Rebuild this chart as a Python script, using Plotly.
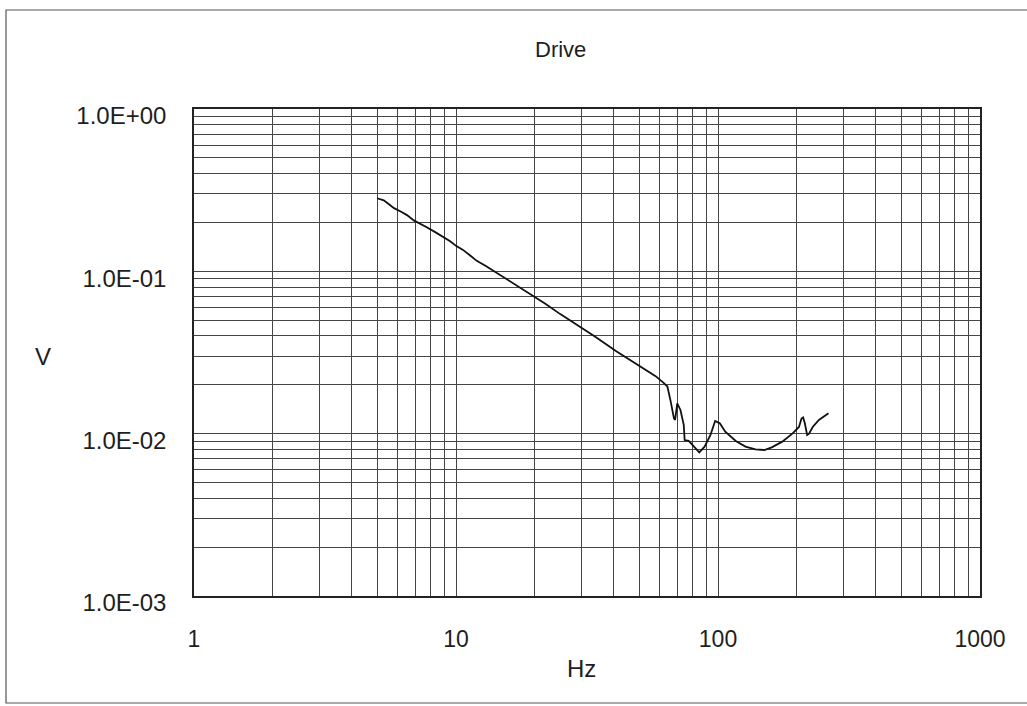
import plotly.graph_objects as go

# Drive voltage vs frequency (log-log)
freq_hz = [5.0, 5.3, 5.5, 5.8, 6.2, 6.5, 6.9, 7.3, 7.7, 8.3, 9.0, 9.5, 10.0,
           10.6, 11.3, 12.0, 13.0, 14.0, 15.0, 16.0, 17.5, 19.7, 22.0, 25.0,
           29.5, 34.0, 40.9, 47.0, 52.0, 57.8, 62.3, 64.1, 66.0, 67.9, 68.6,
           69.9, 71.9, 74.0, 74.6, 77.3, 81.0, 84.8, 88.9, 93.6, 97.5, 101.6,
           106.6, 116.9, 127.3, 139.0, 150.3, 160.4, 175.9, 192.7, 203.7,
           208.3, 211.3, 214.5, 218.9, 222.6, 229.9, 242.7, 264.1]
drive_v = [0.282, 0.274, 0.262, 0.245, 0.232, 0.222, 0.206, 0.197, 0.1875,
           0.175, 0.162, 0.153, 0.1435, 0.136, 0.1256, 0.116, 0.108, 0.100,
           0.094, 0.088, 0.080, 0.0705, 0.063, 0.0545, 0.0459, 0.0395, 0.0322,
           0.0280, 0.0250, 0.0226, 0.0204, 0.0195, 0.01576, 0.01243, 0.01215,
           0.01538, 0.0140, 0.01132, 0.00914, 0.00902, 0.00832, 0.00767,
           0.00832, 0.00982, 0.01197, 0.01158, 0.01029, 0.00902, 0.00832,
           0.0080, 0.00793, 0.00823, 0.00893, 0.01004, 0.0110, 0.0124, 0.0126,
           0.01158, 0.00982, 0.0100, 0.0110, 0.01215, 0.01334]

x_ticks = [1, 10, 100, 1000]
x_tick_text = ["1", "10", "100", "1000"]
y_ticks = [1e-3, 1e-2, 1e-1, 1.0]
y_tick_text = ["1.0E-03", "1.0E-02", "1.0E-01", "1.0E+00"]

x_minor = [m * 10 ** d for d in range(0, 3) for m in range(2, 10)]
y_minor = [m * 10 ** d for d in range(-3, 0) for m in range(2, 10)]

FONT = "Liberation Sans, Arial, sans-serif"
W, H = 1027, 706
L, R, T, B = 194, 980, 109, 596


def px_x(px):
    return (px - L) / (R - L)


def px_y(py):
    return (B - py) / (B - T)


fig = go.Figure()
fig.add_trace(go.Scatter(
    x=freq_hz, y=drive_v, mode="lines",
    line=dict(color="#111111", width=1.8),
    showlegend=False, hoverinfo="x+y",
))

grid_col = "#454545"
fig.update_xaxes(
    type="log", range=[0, 3],
    tickvals=x_ticks, ticktext=x_tick_text,
    showgrid=True, gridcolor=grid_col, gridwidth=1,
    minor=dict(tickvals=x_minor, showgrid=True, gridcolor=grid_col,
               gridwidth=1, ticks=""),
    ticks="", ticklabelstandoff=22,
    showline=True, linecolor="#222222", linewidth=1.5, mirror=True,
    tickfont=dict(family=FONT, size=23, color="#1e1e1e"),
    zeroline=False,
)
fig.update_yaxes(
    type="log", range=[-3, 0],
    tickvals=y_ticks, ticktext=y_tick_text,
    showgrid=True, gridcolor=grid_col, gridwidth=1,
    minor=dict(tickvals=y_minor, showgrid=True, gridcolor=grid_col,
               gridwidth=1, ticks=""),
    ticks="", ticklabelstandoff=21, ticklabelshift=7,
    showline=True, linecolor="#222222", linewidth=1.5, mirror=True,
    tickfont=dict(family=FONT, size=24, color="#1e1e1e"),
    zeroline=False,
)

annots = [
    dict(text="Drive", x=px_x(560), y=px_y(50), size=22),
    dict(text="V", x=px_x(43), y=px_y(356), size=24),
    dict(text="Hz", x=px_x(581), y=px_y(668), size=24),
]
for a in annots:
    fig.add_annotation(
        text=a["text"], x=a["x"], y=a["y"], xref="paper", yref="paper",
        showarrow=False, xanchor="center", yanchor="middle",
        font=dict(family=FONT, size=a["size"], color="#1e1e1e"),
    )

# outer frame around the whole chart
fig.add_shape(
    type="rect", xref="paper", yref="paper",
    x0=px_x(6), x1=px_x(1040), y0=px_y(703), y1=px_y(10),
    line=dict(color="#555555", width=1.2), layer="below",
)

fig.update_layout(
    width=W, height=H,
    margin=dict(l=L, r=W - R, t=T, b=H - B),
    paper_bgcolor="white", plot_bgcolor="white",
    showlegend=False,
)

fig.write_html("out.html")
